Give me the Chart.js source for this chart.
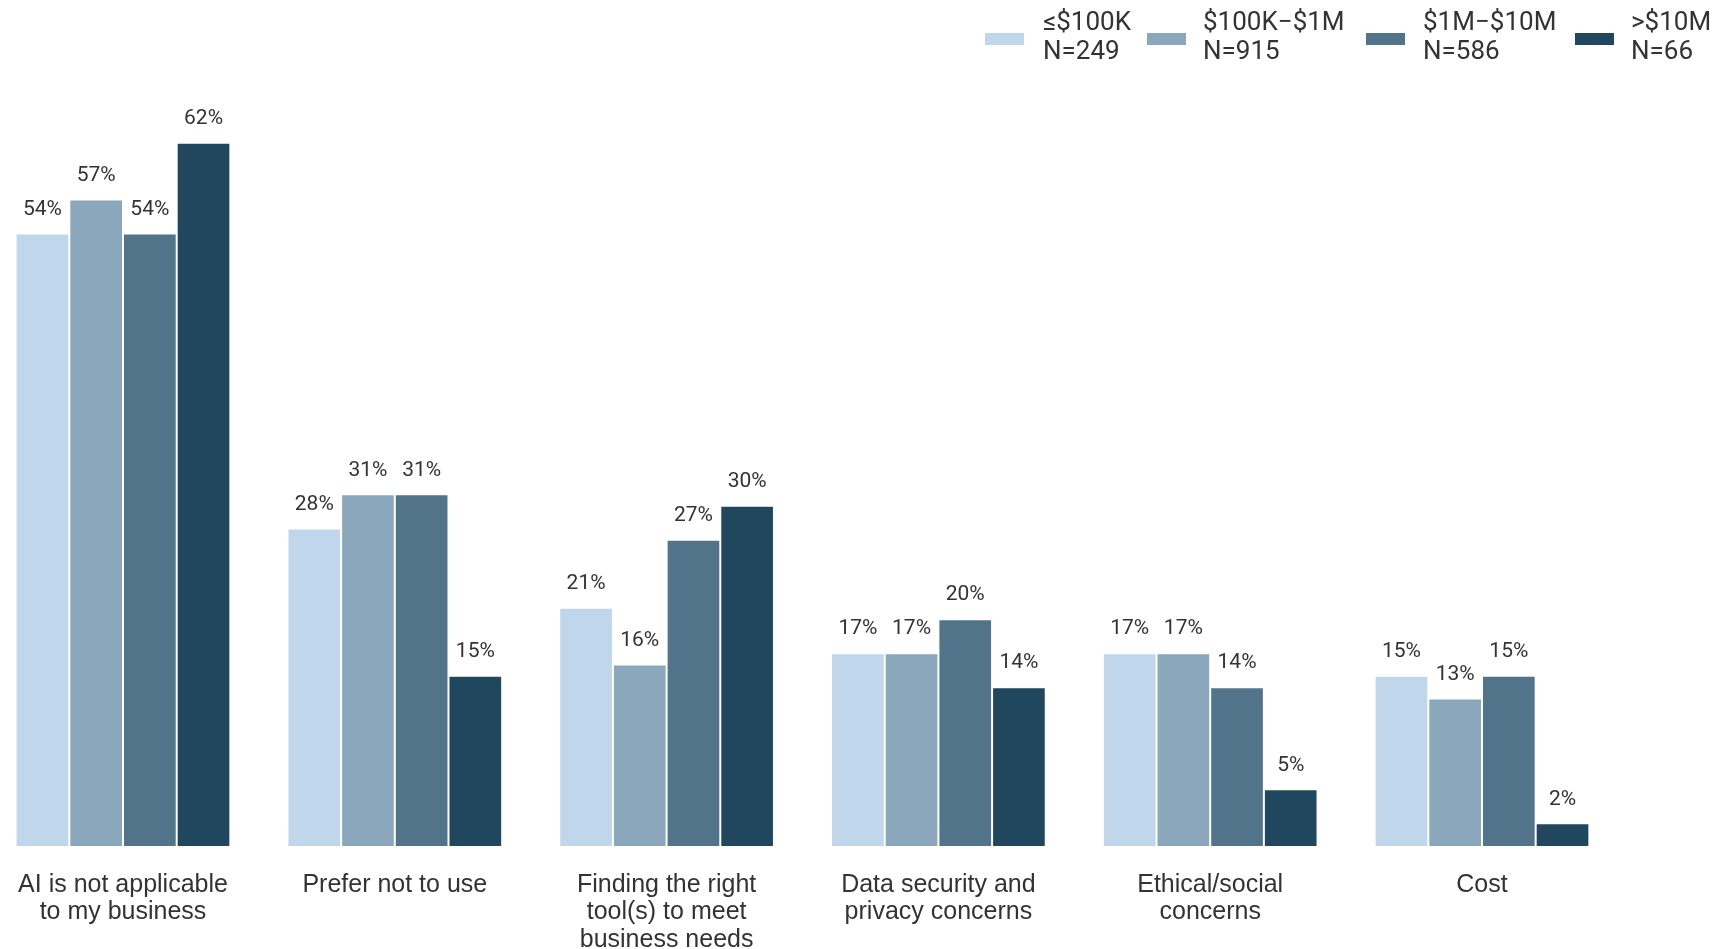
<!DOCTYPE html>
<html>
<head>
    <title>AI barriers by revenue</title>
    <script src="https://cdn.jsdelivr.net/npm/chart.js"></script>
    <style>
        body {
            margin: 0;
            padding: 0;
            background: #ffffff;
            font-family: Roboto, sans-serif;
            color: #333333;
        }
        #wrap {
            position: relative;
            width: 1727px;
            height: 949px;
        }
        #legend {
            position: absolute;
            top: 0;
            left: 0;
        }
        .box {
            position: absolute;
            top: 33px;
            width: 39px;
            height: 12px;
        }
        .txt {
            position: absolute;
            top: 7px;
            font-size: 26px;
            line-height: 28.5px;
            white-space: nowrap;
        }
    </style>
</head>
<body>
    <div id="wrap">
        <canvas id="chart" width="1727" height="949"></canvas>
        <div id="legend"></div>
    </div>

    <script>
        const categories = [
            ['AI is not applicable', 'to my business'],
            ['Prefer not to use'],
            ['Finding the right', 'tool(s) to meet', 'business needs'],
            ['Data security and', 'privacy concerns'],
            ['Ethical/social', 'concerns'],
            ['Cost']
        ];
        const seriesNames = ['≤$100K', '$100K−$1M', '$1M−$10M', '>$10M'];
        const seriesN = ['N=249', 'N=915', 'N=586', 'N=66'];
        const seriesColors = ['#c0d6ea', '#8ba7bb', '#52748a', '#20475e'];

        const under100k = [54, 28, 21, 17, 17, 15];
        const from100kTo1m = [57, 31, 16, 17, 17, 13];
        const from1mTo10m = [54, 31, 27, 20, 14, 15];
        const over10m = [62, 15, 30, 14, 5, 2];
        const seriesValues = [under100k, from100kTo1m, from1mTo10m, over10m];

        // legend drawn in html, two lines per entry
        const boxX = [985, 1147, 1366, 1575];
        const textX = [1043, 1203, 1423, 1631];
        document.getElementById('legend').innerHTML = seriesNames.map((name, i) => `
            <div class="box" style="left:${boxX[i]}px; background:${seriesColors[i]}"></div>
            <div class="txt" style="left:${textX[i]}px">${name}<br>${seriesN[i]}</div>
        `).join('');

        const valueLabels = {
            id: 'valueLabels',
            afterDatasetsDraw(chart) {
                const ctx = chart.ctx;
                ctx.save();
                ctx.font = '21px Roboto, sans-serif';
                ctx.fillStyle = '#333333';
                ctx.textAlign = 'center';
                ctx.textBaseline = 'middle';
                chart.data.datasets.forEach((ds, di) => {
                    chart.getDatasetMeta(di).data.forEach((bar, i) => {
                        ctx.fillText(ds.data[i] + '%', bar.x, bar.y - 24);
                    });
                });
                ctx.restore();
            }
        };

        new Chart(document.getElementById('chart').getContext('2d'), {
            type: 'bar',
            data: {
                labels: categories,
                datasets: seriesNames.map((name, i) => ({
                    label: name,
                    data: seriesValues[i],
                    backgroundColor: seriesColors[i],
                    borderColor: '#ffffff',
                    borderWidth: 1,
                    categoryPercentage: 0.79,
                    barPercentage: 1,
                    clip: false
                }))
            },
            options: {
                responsive: false,
                animation: false,
                layout: {
                    padding: { top: 52, left: 123, right: 245, bottom: 0 }
                },
                plugins: {
                    legend: { display: false },
                    tooltip: { enabled: false }
                },
                scales: {
                    x: {
                        offset: false,
                        grid: { display: false, drawTicks: false },
                        border: { display: false },
                        ticks: {
                            color: '#333333',
                            padding: 25,
                            maxRotation: 0,
                            autoSkip: false,
                            font: { family: "'Liberation Sans', Arial, sans-serif", size: 25, lineHeight: '27.5px' }
                        },
                        afterFit(scale) {
                            scale.height = 103;
                            scale.paddingLeft = 0;
                            scale.paddingRight = 0;
                        }
                    },
                    y: {
                        display: false,
                        min: 0,
                        max: 70
                    }
                }
            },
            plugins: [valueLabels]
        });
    </script>
</body>
</html>
